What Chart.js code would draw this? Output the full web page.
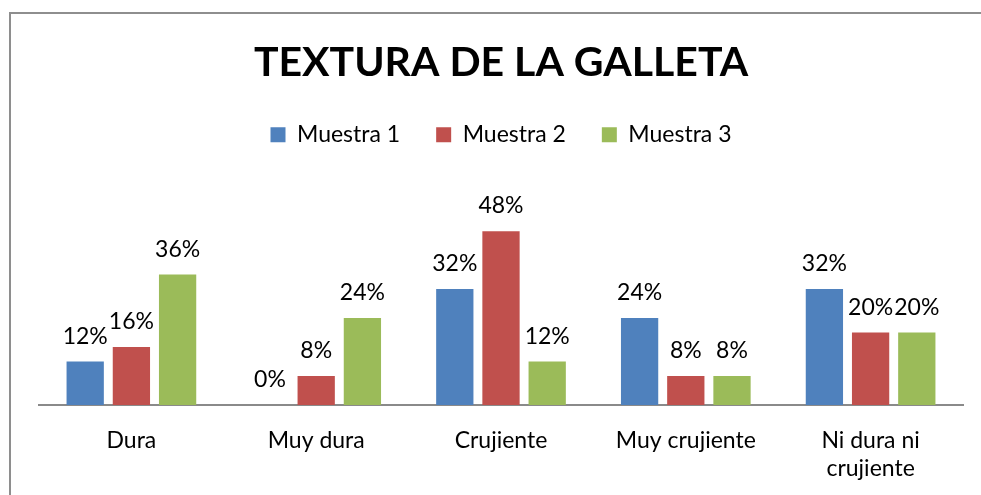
<!DOCTYPE html>
<html>
<head>
<meta charset="utf-8">
<script src="https://cdn.jsdelivr.net/npm/chart.js@4/dist/chart.umd.min.js"></script>
<style>
  html, body { margin: 0; padding: 0; background: #fff; overflow: hidden; }
  canvas { display: block; }
</style>
</head>
<body>
<canvas id="texturaChart" width="981" height="495"></canvas>
<script>
// datos (porcentajes)
var categorias = ['Dura', 'Muy dura', 'Crujiente', 'Muy crujiente', ['Ni dura ni', 'crujiente']];
var muestra1 = [12, 0, 32, 24, 32];
var muestra2 = [16, 8, 48, 8, 20];
var muestra3 = [36, 24, 12, 8, 20];

var fuente = 'Lato, "Open Sans", sans-serif';
Chart.defaults.font.family = fuente;
Chart.defaults.color = '#000';

// borde gris del cuadro (solo izquierda y arriba quedan visibles)
var marco = {
    id: 'marco',
    beforeDraw: function(chart) {
        var ctx = chart.ctx;
        ctx.save();
        ctx.fillStyle = '#8e8e8e';
        ctx.fillRect(9, 12, 2, chart.height - 12);
        ctx.fillRect(9, 12, chart.width - 9, 2);
        ctx.restore();
    }
};

// etiquetas de valor encima de cada barra
var valueLabels = {
    id: 'valueLabels',
    afterDatasetsDraw: function(chart) {
        var ctx = chart.ctx;
        ctx.save();
        ctx.font = '23px ' + fuente;
        ctx.fillStyle = '#000';
        ctx.textAlign = 'center';
        ctx.textBaseline = 'alphabetic';
        chart.data.datasets.forEach(function(ds, i) {
            chart.getDatasetMeta(i).data.forEach(function(bar, j) {
                ctx.fillText(ds.data[j] + '%', bar.x, bar.y - 18);
            });
        });
        ctx.restore();
    }
};

var ctx1 = document.getElementById('texturaChart').getContext('2d');
var texturaChart = new Chart(ctx1, {
    type: 'bar',
    data: {
        labels: categorias,
        datasets: [
            { label: 'Muestra 1', data: muestra1, backgroundColor: '#4f81bd' },
            { label: 'Muestra 2', data: muestra2, backgroundColor: '#c0504d' },
            { label: 'Muestra 3', data: muestra3, backgroundColor: '#9bbb59' }
        ]
    },
    options: {
        responsive: false,
        animation: false,
        categoryPercentage: 0.75,
        barPercentage: 0.807,
        layout: { padding: { left: 39, right: 18, top: 0, bottom: 0 } },
        plugins: {
            title: {
                display: true,
                text: 'TEXTURA DE LA GALLETA',
                font: { size: 41, weight: 'bold' },
                color: '#000',
                padding: { top: 38, bottom: 0 }
            },
            // espaciador entre leyenda y area del grafico
            subtitle: {
                display: true,
                text: '',
                font: { size: 5, lineHeight: 1.3 },
                padding: { top: 0, bottom: 25 },
                weight: 500
            },
            legend: {
                position: 'top',
                labels: {
                    boxWidth: 15,
                    boxHeight: 15,
                    padding: 36,
                    font: { size: 23 }
                }
            },
            tooltip: { enabled: false }
        },
        scales: {
            x: {
                grid: { display: false, drawTicks: false },
                border: { display: true, color: '#8a8a8a', width: 2 },
                ticks: { padding: 21, font: { size: 23, lineHeight: 1.24 } },
                afterFit: function(scale) { scale.height = 90; }
            },
            y: {
                display: false,
                min: 0,
                max: 60
            }
        }
    },
    plugins: [marco, valueLabels]
});
</script>
</body>
</html>
